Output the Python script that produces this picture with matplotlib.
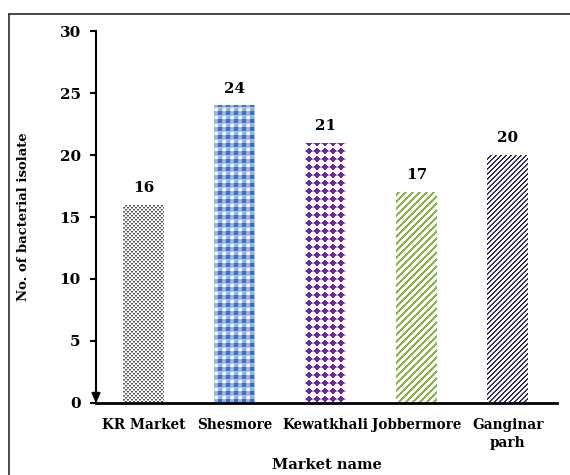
import numpy as np
import matplotlib
matplotlib.use("Agg")
import matplotlib.pyplot as plt
from matplotlib.lines import Line2D
from matplotlib.colors import to_rgb

# Data
markets = ["KR Market", "Shesmore", "Kewatkhali", "Jobbermore", "Ganginar\nparh"]
isolates = [16, 24, 21, 17, 20]
y_ticks = [0, 5, 10, 15, 20, 25, 30]

SERIF = ["DejaVu Serif"]


# ---- fill textures (small repeating tiles, RGB) ----
def blank(h, w):
    return np.ones((h, w, 3))


def tile_stipple():
    t = blank(4, 4)
    dark, mid = to_rgb("#555555"), to_rgb("#a0a0a0")
    t[0, 0:2] = dark
    t[1, 0:2] = mid
    t[2, 2:4] = dark
    t[3, 2:4] = mid
    return t


def tile_gingham():
    t = blank(8, 8)
    light, blue = to_rgb("#93b2e0"), to_rgb("#3a6fcc")
    t[:, :] = light
    t[1:4, 1:4] = 1.0
    t[4:8, 4:8] = blue
    t[0, ::2] = to_rgb("#c3d3ec")
    t[1:4, 0] = to_rgb("#c3d3ec")
    return t


def tile_diamonds():
    t = blank(8, 8)
    purple, pale = to_rgb("#6a2c96"), to_rgb("#c2b0d8")
    for r in range(8):
        for c in range(8):
            if abs(r - 3.5) + abs(c - 3.5) <= 3.0:
                t[r, c] = purple
    t[3:5, 0] = pale
    t[3:5, 7] = pale
    return t


def tile_stripes(period, width, color):
    t = blank(period, period)
    col = to_rgb(color)
    for r in range(period):
        for c in range(period):
            if (r + c) % period < width:
                t[r, c] = col
    return t


tiles = [
    tile_stipple(),
    tile_gingham(),
    tile_diamonds(),
    tile_stripes(7, 3, "#8db249"),
    tile_stripes(5, 2, "#2e2b5c"),
]

# ---- figure ----
fig = plt.figure(figsize=(5.70, 4.75), dpi=100)
ax = fig.add_axes([96 / 570, 1 - 403 / 475, (557 - 96) / 570, (403 - 31) / 475])

x = np.arange(len(markets))
xlim = (-0.52, len(markets) - 1 + 0.54)
ylim = (0, 30)
ax.set_xlim(*xlim)
ax.set_ylim(*ylim)

bars = ax.bar(x, isolates, width=0.45, color="none", edgecolor="none", zorder=2)

# fill each bar with its texture at one texel per pixel
inv = ax.transData.inverted()
for rect, tile in zip(bars, tiles):
    x0, w, h = rect.get_x(), rect.get_width(), rect.get_height()
    (px0, py0), (px1, py1) = ax.transData.transform([[x0, 0], [x0 + w, h]])
    px0, py0 = round(px0), round(py0)
    W, H = int(round(px1 - px0)), int(round(py1 - py0))
    (ex0, ey0), (ex1, ey1) = inv.transform([[px0, py0], [px0 + W, py0 + H]])
    th, tw, _ = tile.shape
    reps = (H // th + 2, W // tw + 2, 1)
    img = np.tile(tile, reps)[-H:, :W]
    im = ax.imshow(img, extent=(ex0, ex1, ey0, ey1), interpolation="nearest",
                   aspect="auto", zorder=2)
    im.set_clip_path(rect)

ax.set_xlim(*xlim)
ax.set_ylim(*ylim)

# value labels
for xi, v in zip(x, isolates):
    ax.annotate(str(v), (xi, v), xytext=(0, 7), textcoords="offset points",
                ha="center", va="bottom", fontsize=11, fontweight="bold",
                family=SERIF)

# axes styling
for s in ("top", "right"):
    ax.spines[s].set_visible(False)
ax.spines["left"].set_linewidth(1.5)
ax.spines["bottom"].set_linewidth(2.0)

ax.set_yticks(y_ticks)
ax.set_yticklabels([str(t) for t in y_ticks])
ax.set_xticks(x)
ax.set_xticklabels(markets)
ax.tick_params(axis="y", direction="out", length=4, width=1.5, pad=7)
ax.tick_params(axis="x", length=0, pad=11)
for lab in ax.get_yticklabels() + ax.get_xticklabels():
    lab.set_fontweight("bold")
    lab.set_family(SERIF)
    lab.set_fontsize(11)
for lab in ax.get_xticklabels():
    lab.set_fontsize(9.8)
    lab.set_linespacing(1.3)

# arrow head at the foot of the y axis
ax.annotate("", xy=(0, 0), xycoords="axes fraction", xytext=(0, 0.035),
            arrowprops=dict(arrowstyle="-|>,head_length=0.55,head_width=0.25",
                            color="black", lw=1.5, shrinkA=0, shrinkB=0),
            annotation_clip=False)

ax.set_ylabel("No. of bacterial isolate", fontsize=9.5, fontweight="bold",
              family=SERIF)
ax.yaxis.set_label_coords(-0.143, 0.5)
ax.set_xlabel("Market name", fontsize=10.5, fontweight="bold", family=SERIF,
              labelpad=6)

# outer frame (top and left edges)
frame_kw = dict(color="#3a3a3a", lw=1.3, transform=fig.transFigure)
fig.add_artist(Line2D([9 / 570, 1.0], [1 - 14 / 475, 1 - 14 / 475], **frame_kw))
fig.add_artist(Line2D([9 / 570, 9 / 570], [0.0, 1 - 14 / 475], **frame_kw))

fig.savefig("out.png", dpi=100)
